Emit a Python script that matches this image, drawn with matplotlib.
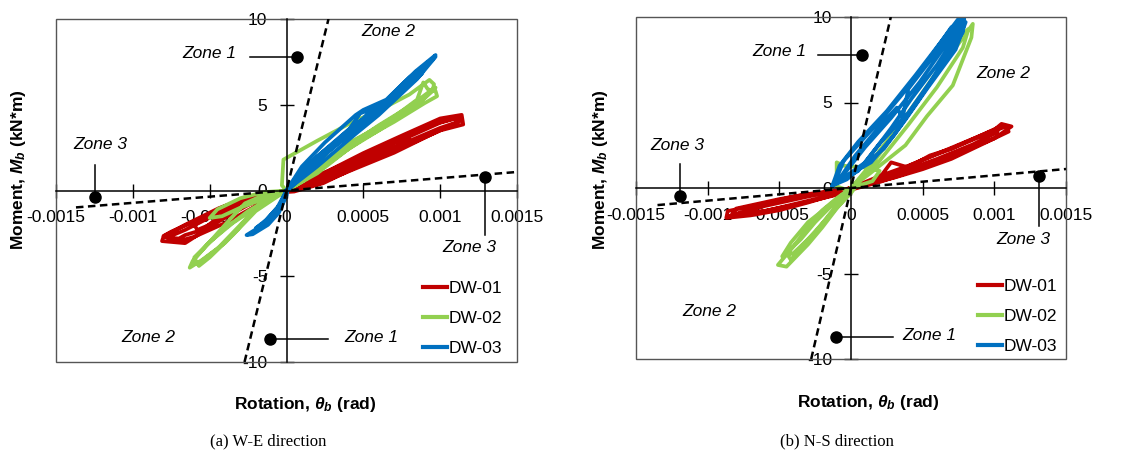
import matplotlib
matplotlib.use("Agg")
import matplotlib.pyplot as plt
from matplotlib import font_manager as fm
from matplotlib.patches import Rectangle
from matplotlib.lines import Line2D

# ---------------- data ----------------
x_ticks = [-0.0015, -0.001, -0.0005, 0, 0.0005, 0.001, 0.0015]
x_tick_labels = ["-0.0015", "-0.001", "-0.0005", "0", "0.0005", "0.001", "0.0015"]
y_ticks = [-10, -5, 0, 5, 10]
y_tick_labels = ["-10", "-5", "0", "5", "10"]
series_names = ["DW-01", "DW-02", "DW-03"]
series_colors = ["#C00000", "#92D050", "#0070C0"]

# Panel (a) W-E direction -- rotation (rad) / moment (kN*m)
a_dw01_rot = [0, 0.00009, 0.00024, 0.0005, 0.00075, 0.001, 0.00114, 0.00115, 0.001, 0.00075, 0.0005,
              0.00024, 0.00005, -0.0001, -0.00023, -0.00044, -0.00066, -0.0008, -0.00081, -0.00066,
              -0.00044, -0.00023, 0,
              0.0002, 0.0005, 0.00075, 0.001, 0.00112, 0.0011, 0.001, 0.00075, 0.0005, 0.0002, 0,
              -0.00023, -0.00044, -0.00066, -0.00078, -0.0007, -0.00066, -0.00055, -0.00044, -0.00023, 0,
              0.0003, 0.0006, 0.0008, 0.00079, 0.0006, 0.0003, 0, -0.0003, -0.0005, -0.0006,
              -0.00058, -0.0005, -0.0003, 0,
              0.0002, 0.0004, 0.0007, 0.00095, 0.00113, 0.00113, 0.00095, 0.0007, 0.0004, 0.0002, 0,
              -0.0002, -0.0004, -0.0006, -0.00075, -0.0008, -0.0007, -0.0006, -0.0004, -0.0002, 0]
a_dw01_mom = [0, 0.72, 1.0, 2.18, 3.2, 4.2, 4.41, 3.85, 3.5, 2.5, 1.56,
              0.43, -0.06, -0.15, -0.35, -1.03, -2.0, -2.68, -2.95, -3.07,
              -1.8, -0.74, 0,
              0.8, 1.95, 2.95, 3.95, 4.25, 3.95, 3.65, 2.7, 1.75, 0.6, 0,
              -0.5, -1.3, -2.3, -2.75, -2.8, -2.6, -2.3, -1.55, -0.6, 0,
              1.25, 2.4, 3.2, 2.9, 2.0, 0.9, 0, -0.7, -1.5, -2.0,
              -2.3, -2.0, -1.0, 0,
              0.85, 1.6, 2.85, 3.85, 4.3, 4.05, 3.3, 2.2, 1.1, 0.35, 0,
              -0.3, -0.9, -1.8, -2.4, -2.65, -2.95, -2.7, -1.9, -0.9, 0]

a_dw02_rot = [0, -0.00003, -0.00002, 0.0002, 0.00041, 0.00063, 0.0008, 0.00093, 0.00096, 0.00095,
              0.00084, 0.00063, 0.00041, 0.0002, 0.00005, 0, -0.00012, -0.00023, -0.00032, -0.0004,
              -0.00055, -0.00063, -0.00061, -0.00053, -0.00038, -0.00027, -0.00017, -0.00006, 0,
              0.0001, 0.0003, 0.0005, 0.0007, 0.00085, 0.00089, 0.00092, 0.00097, 0.00098, 0.0009,
              0.0007, 0.0005, 0.0003, 0.0001, 0, -0.0001, -0.0002, -0.00035, -0.0005, -0.0006,
              -0.00058, -0.00045, -0.0003, -0.00015, 0,
              -0.00015, -0.0003, -0.00045, -0.0005, -0.00042, -0.0003, -0.00015, 0,
              0.0002, 0.0004, 0.00045, 0.0004, 0.0002, 0,
              0.0002, 0.0004, 0.0006, 0.0008, 0.00095, 0.00097, 0.00085, 0.0006, 0.0004, 0.0002, 0,
              -0.0001, -0.00025, -0.0004, -0.00052, -0.0006, -0.00057, -0.0005, -0.00035, -0.0002, 0]
a_dw02_mom = [0, 0.3, 1.8, 2.9, 3.9, 4.8, 5.6, 6.45, 6.2, 5.8,
              4.9, 3.85, 2.8, 1.5, 0.6, 0.05, -0.55, -1.3, -2.3, -3.05,
              -4.05, -4.5, -4.1, -3.3, -1.8, -0.75, -0.35, -0.1, 0,
              0.9, 2.1, 3.2, 4.3, 5.3, 6.3, 5.9, 5.8, 5.5, 5.1,
              4.0, 3.0, 1.8, 0.5, 0, -0.5, -1.0, -1.9, -3.0, -3.9,
              -4.3, -3.4, -2.0, -0.6, 0,
              -0.1, -0.45, -1.1, -1.6, -1.5, -1.0, -0.5, 0,
              1.3, 2.6, 2.9, 2.4, 1.0, 0,
              1.4, 2.6, 3.8, 4.9, 5.9, 6.0, 5.0, 3.5, 2.4, 1.1, 0,
              -0.4, -1.2, -2.2, -3.2, -4.0, -4.4, -3.9, -2.6, -1.2, 0]

a_dw03_rot = [0, 0.00007, 0.00016, 0.00026, 0.00041, 0.00048, 0.00063, 0.00071, 0.00084, 0.00097,
              0.00095, 0.0008, 0.00065, 0.0005, 0.00035, 0.0002, 0.00007, 0, -0.00003, -0.00008,
              -0.00017, -0.00026, -0.00022, -0.00012, -0.00005, 0, 0.00001,
              0.0001, 0.0002, 0.0003, 0.00045, 0.0006, 0.00075, 0.0009, 0.00088, 0.0007, 0.00055,
              0.0004, 0.00025, 0.0001, 0, -0.00006, -0.00015, -0.0002, -0.00013, -0.00004, 0,
              0.00012, 0.00025, 0.0004, 0.00052, 0.00068, 0.0008, 0.00092, 0.0009, 0.00075, 0.0006,
              0.00045, 0.0003, 0.00012, 0,
              0.0001, 0.00025, 0.00045, 0.0005, 0.00065, 0.0008, 0.00097, 0.00085, 0.0006, 0.00045,
              0.0002, 0]
a_dw03_mom = [0, 0.85, 1.65, 2.45, 3.6, 4.5, 5.0, 5.8, 6.95, 7.9,
              7.6, 6.3, 5.2, 4.0, 3.0, 1.8, 0.6, -0.1, -0.6, -1.5,
              -2.1, -2.6, -2.55, -2.0, -1.3, -0.3, 0.2,
              1.1, 2.0, 2.7, 3.9, 4.7, 5.9, 7.2, 6.8, 5.4, 4.3,
              3.2, 2.1, 0.8, 0, -1.0, -1.9, -2.2, -1.7, -0.8, 0,
              1.3, 2.3, 3.3, 4.4, 5.3, 6.4, 7.5, 7.1, 5.8, 4.7,
              3.6, 2.5, 1.0, 0,
              1.4, 2.8, 4.4, 4.7, 5.3, 6.6, 7.8, 6.5, 4.4, 3.3,
              1.4, 0]

# Panel (b) N-S direction
b_dw01_rot = [0, 0.0002, 0.0004, 0.0006, 0.0008, 0.001, 0.00105, 0.00112, 0.001, 0.0008, 0.0006,
              0.0004, 0.0002, 0, -0.0002, -0.0004, -0.0006, -0.00086, -0.00087, -0.0007, -0.0005,
              -0.0003, -0.0001, 0,
              0.0002, 0.00028, 0.0004, 0.00055, 0.0007, 0.0009, 0.00108, 0.0011, 0.0009, 0.0007,
              0.0005, 0.0003, 0.0001, -0.0001, -0.0003, -0.0005, -0.0008, -0.00083, -0.0006,
              -0.0004, -0.0002, 0,
              0.0003, 0.0005, 0.0007, 0.0009, 0.00103, 0.00102, 0.00085, 0.0006, 0.0003, 0,
              -0.0003, -0.0006, -0.00078, -0.00085, -0.0007, -0.0004, -0.0001, 0]
b_dw01_mom = [0, 0.7, 1.3, 2.0, 2.7, 3.4, 3.75, 3.6, 2.9, 2.2, 1.5,
              0.9, 0.35, -0.1, -0.25, -0.5, -0.9, -1.35, -1.75, -1.6, -1.3,
              -0.85, -0.35, 0,
              0.6, 1.5, 1.2, 1.9, 2.3, 3.0, 3.6, 3.3, 2.5, 1.7,
              1.1, 0.6, 0.2, -0.2, -0.35, -0.65, -1.2, -1.55, -1.35,
              -0.95, -0.55, 0,
              0.9, 1.65, 2.3, 3.05, 3.55, 3.25, 2.55, 1.7, 0.8, 0,
              -0.5, -1.05, -1.45, -1.65, -1.5, -1.0, -0.4, 0]

b_dw02_rot = [0, 0.0001, 0.0002, 0.00035, 0.0005, 0.00065, 0.0008, 0.00085, 0.00084, 0.00071,
              0.00053, 0.00038, 0.00014, 0, -0.0001, -0.0002, -0.0003, -0.0004, -0.00051, -0.00045,
              -0.0003, -0.0002, -0.0001, 0,
              -0.0001, -0.0001, -0.00005, 0.0001, 0.0002, 0.00015, 0, -0.00012, -0.00025, -0.00035,
              -0.00045, -0.00042, -0.0003, -0.00015, 0,
              0.0002, 0.0004, 0.0006, 0.00076, 0.00082, 0.00078, 0.0006, 0.0004, 0.0002, 0,
              -0.00015, -0.0003, -0.00042, -0.00048, -0.0004, -0.00025, -0.0001, 0]
b_dw02_mom = [0, 1.0, 2.2, 3.8, 5.5, 7.3, 9.0, 9.6, 8.8, 6.0,
              4.2, 2.5, 0.9, 0, -0.6, -1.3, -2.3, -3.4, -4.5, -4.6,
              -3.3, -2.3, -1.2, -0.2,
              0.1, 1.5, 1.3, 1.2, 1.0, 0.4, 0, -0.9, -2.0, -3.0,
              -3.8, -4.2, -3.0, -1.6, -0.3,
              2.0, 4.4, 6.8, 8.9, 9.3, 8.2, 5.9, 3.7, 1.6, 0,
              -1.0, -2.0, -3.2, -4.0, -3.8, -2.6, -1.0, 0]

b_dw03_rot = [-0.00013, -0.00008, 0.00005, 0.00025, 0.00045, 0.00066, 0.00075, 0.0008, 0.00073,
              0.00053, 0.00038, 0.00023, -0.00003, -0.00013,
              -0.0001, 0.00003, 0.00022, 0.00032, 0.00036, 0.0004, 0.00058, 0.00078, 0.00077,
              0.0006, 0.00042, 0.00028, 0.0001, -0.0001,
              -0.00005, 0.0001, 0.00028, 0.00048, 0.00068, 0.00079, 0.00078, 0.00062, 0.00046,
              0.0003, 0.00014, -0.00005,
              -0.00012, -0.00005, 0.0001, 0.0002, 0.00035, 0.0005, 0.0007, 0.00079, 0.00075,
              0.00056, 0.0004, 0.0002, 0.00005, -0.00012]
b_dw03_mom = [0.14, 1.3, 2.7, 4.5, 6.6, 8.9, 9.9, 9.7, 8.1,
              5.8, 4.0, 2.3, 0.5, 0.14,
              0.3, 1.9, 3.8, 4.7, 4.1, 5.8, 7.75, 10.0, 9.4,
              7.2, 5.2, 3.5, 1.5, 0.3,
              0.8, 2.4, 4.1, 6.2, 8.6, 9.9, 9.1, 7.0, 5.0,
              3.1, 1.5, 0.6,
              0.2, 1.6, 3.0, 3.9, 5.4, 7.0, 9.4, 9.8, 8.8,
              6.3, 4.4, 2.6, 1.0, 0.2]

# zone boundary lines (slopes in kN*m/rad)
a_steep_slope, a_shallow_slope = 36600, 720
b_steep_slope, b_shallow_slope = 36000, 740

# ---------------- fonts ----------------
names = {f.name for f in fm.fontManager.ttflist}
SANS = "Liberation Sans" if "Liberation Sans" in names else "DejaVu Sans"
SERIF = "Liberation Serif" if "Liberation Serif" in names else "DejaVu Serif"
plt.rcParams["font.family"] = [SANS, "DejaVu Sans"]
plt.rcParams["mathtext.fontset"] = "custom"
plt.rcParams["mathtext.rm"] = f"{SANS}:bold"
plt.rcParams["mathtext.it"] = f"{SANS}:italic:bold"
plt.rcParams["mathtext.bf"] = f"{SANS}:bold"

tick_font = dict(family=SANS, size=12.5)
leg_font = dict(family=SANS, size=12.5)

W, H = 1134, 455
fig = plt.figure(figsize=(W / 100, H / 100), dpi=100)


def fx(px):
    return px / W


def fy(py):
    return 1 - py / H


def setup(ax):
    ax.set_xlim(-0.0015, 0.0015)
    ax.set_ylim(-10, 10)
    for s in ["top", "right"]:
        ax.spines[s].set_visible(False)
    ax.spines["left"].set_position(("data", 0))
    ax.spines["bottom"].set_position(("data", 0))
    for s in ["left", "bottom"]:
        ax.spines[s].set_linewidth(1.1)
        ax.spines[s].set_color("black")
        ax.spines[s].set_zorder(2.6)
    ax.add_patch(Rectangle((0, 0), 1, 1, transform=ax.transAxes, fill=False,
                           edgecolor="#555555", lw=1.0, clip_on=False, zorder=2.5))
    ax.set_xticks(x_ticks)
    ax.set_xticklabels(x_tick_labels, fontdict=tick_font)
    ax.set_yticks(y_ticks)
    ax.set_yticklabels(y_tick_labels, fontdict=tick_font)
    ax.tick_params(axis="both", direction="inout", length=9.4, width=1.0, color="black")
    ax.tick_params(axis="x", pad=9.5)
    ax.tick_params(axis="y", pad=9)
    ax.patch.set_visible(False)


def zone_lines(ax, steep, shallow, x_left):
    ax.plot([-10 / steep, 10 / steep], [-10, 10], color="black", lw=1.8,
            ls=(0, (3.0, 1.8)), zorder=3)
    ax.plot([x_left, 0.0015], [x_left * shallow, 0.0015 * shallow], color="black", lw=1.8,
            ls=(0, (3.0, 1.8)), zorder=3)


def dot(ax, x, y):
    ax.plot([x], [y], "o", color="black", ms=8, zorder=4, clip_on=False)


def leader(ax, xs, ys):
    ax.plot(xs, ys, color="black", lw=1.1, zorder=4, clip_on=False)


def zone_text(ax, x, y, s):
    ax.text(x, y, s, fontsize=12.5, style="italic", ha="center", va="center", zorder=5)


panels = [
    dict(rect=[fx(56), fy(362), 461 / W, 343 / H],
         series=[(a_dw01_rot, a_dw01_mom), (a_dw02_rot, a_dw02_mom), (a_dw03_rot, a_dw03_mom)],
         steep=a_steep_slope, shallow=a_shallow_slope, x_left=-0.00137,
         zones=dict(z1t=(-0.0005, 8.0), z1dot=(0.00007, 7.8), z1line=-0.00024,
                    z2t=(0.00066, 9.27),
                    z3lt=(-0.00121, 2.7), z3ldot=(-0.001245, -0.4), z3lline=1.5,
                    z3rdot=(0.00129, 0.77), z3rline=-2.6, z3rt=(0.00119, -3.3),
                    z2b=(-0.0009, -8.57),
                    z1bdot=(-0.00011, -8.68), z1bline=0.00027, z1bt=(0.00055, -8.57)),
         legend=(423, 281), ylab=(19, 170), xlab=(305, 405),
         caption=("(a) W-E direction", 268, 441)),
    dict(rect=[fx(636), fy(359), 430 / W, 342 / H],
         series=[(b_dw01_rot, b_dw01_mom), (b_dw02_rot, b_dw02_mom), (b_dw03_rot, b_dw03_mom)],
         steep=b_steep_slope, shallow=b_shallow_slope, x_left=-0.00135,
         zones=dict(z1t=(-0.0005, 8.0), z1dot=(0.000077, 7.78), z1line=-0.00023,
                    z2t=(0.00106, 6.7),
                    z3lt=(-0.00121, 2.5), z3ldot=(-0.00119, -0.45), z3lline=1.4,
                    z3rdot=(0.00131, 0.7), z3rline=-2.2, z3rt=(0.0012, -3.04),
                    z2b=(-0.00099, -7.2),
                    z1bdot=(-0.000105, -8.7), z1bline=0.00029, z1bt=(0.00055, -8.6)),
         legend=(978, 279), ylab=(600, 170), xlab=(868, 403),
         caption=("(b) N-S direction", 837, 441)),
]

for p in panels:
    ax = fig.add_axes(p["rect"])
    setup(ax)
    handles = []
    for (xs, ys), c, n in zip(p["series"], series_colors, series_names):
        ax.plot(xs, ys, color=c, lw=2.7, solid_joinstyle="round", zorder=2)
        handles.append(Line2D([], [], color=c, lw=3))
    zone_lines(ax, p["steep"], p["shallow"], p["x_left"])
    z = p["zones"]
    zone_text(ax, *z["z1t"], "Zone 1")
    leader(ax, [z["z1line"], z["z1dot"][0]], [z["z1dot"][1], z["z1dot"][1]])
    dot(ax, *z["z1dot"])
    zone_text(ax, *z["z2t"], "Zone 2")
    zone_text(ax, *z["z3lt"], "Zone 3")
    leader(ax, [z["z3ldot"][0], z["z3ldot"][0]], [z["z3lline"], z["z3ldot"][1]])
    dot(ax, *z["z3ldot"])
    leader(ax, [z["z3rdot"][0], z["z3rdot"][0]], [z["z3rdot"][1], z["z3rline"]])
    dot(ax, *z["z3rdot"])
    zone_text(ax, *z["z3rt"], "Zone 3")
    zone_text(ax, *z["z2b"], "Zone 2")
    leader(ax, [z["z1bdot"][0], z["z1bline"]], [z["z1bdot"][1], z["z1bdot"][1]])
    dot(ax, *z["z1bdot"])
    zone_text(ax, *z["z1bt"], "Zone 1")

    lx, ly = p["legend"]
    ax.legend(handles, series_names, loc="upper left",
              bbox_to_anchor=(fx(lx), fy(ly)), bbox_transform=fig.transFigure,
              frameon=False, prop=leg_font, handlelength=1.4, handletextpad=0.1,
              labelspacing=0.86, borderpad=0, borderaxespad=0)

    fig.text(fx(p["ylab"][0]), fy(p["ylab"][1]), r"Moment, $M_b$ (kN*m)", rotation=90,
             ha="center", va="center", fontsize=12.5, fontweight="bold")
    fig.text(fx(p["xlab"][0]), fy(p["xlab"][1]), r"Rotation, $\theta_b$ (rad)",
             ha="center", va="center", fontsize=12.5, fontweight="bold")
    cap, cx, cy = p["caption"]
    fig.text(fx(cx), fy(cy), cap, ha="center", va="center", fontsize=12, family=SERIF)

fig.savefig("out.png", dpi=100)
